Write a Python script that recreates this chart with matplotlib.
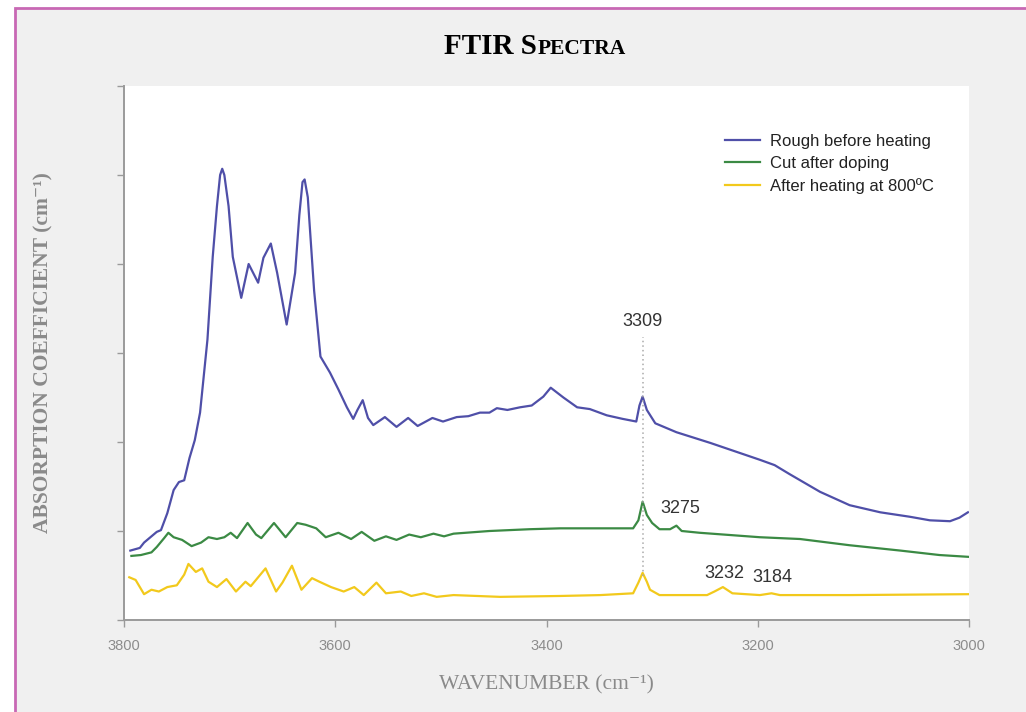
import matplotlib as mpl
mpl.use("agg")
import matplotlib.pyplot as plt
from matplotlib.patches import Rectangle
from matplotlib.offsetbox import TextArea, HPacker, AnchoredOffsetbox

# spectra (wavenumber cm-1, absorption coefficient arb. units)
rough_wn = [3794, 3785, 3781, 3769, 3765, 3759, 3753, 3748, 3743, 3738, 3733, 3728,
            3721, 3716, 3712, 3709, 3707, 3705, 3701, 3697, 3689, 3682, 3673, 3668,
            3661, 3655, 3646, 3638, 3634, 3631, 3629, 3626, 3620, 3614, 3605, 3597,
            3589, 3583, 3579, 3574, 3569, 3564, 3553, 3542, 3531, 3522, 3508, 3498,
            3485, 3474, 3463, 3454, 3447, 3437, 3425, 3414, 3403, 3396, 3384, 3371,
            3359, 3343, 3328, 3315, 3312, 3309, 3305, 3297, 3277, 3245, 3198, 3184,
            3170, 3141, 3113, 3084, 3056, 3037, 3018, 3009, 3001]
rough_ab = [7.8, 8.1, 8.7, 9.9, 10.1, 12.0, 14.6, 15.5, 15.7, 18.2, 20.2, 23.3,
            31.5, 40.8, 46.5, 50.0, 50.7, 50.0, 46.5, 40.8, 36.2, 40.0, 37.9, 40.7,
            42.3, 39.0, 33.2, 39.0, 45.5, 49.2, 49.5, 47.5, 37.0, 29.6, 27.8, 25.9,
            23.9, 22.6, 23.6, 24.7, 22.7, 21.9, 22.8, 21.7, 22.7, 21.8, 22.7, 22.3,
            22.8, 22.9, 23.3, 23.3, 23.8, 23.6, 23.9, 24.1, 25.1, 26.1, 25.0, 23.9,
            23.7, 23.0, 22.6, 22.3, 24.1, 25.1, 23.6, 22.1, 21.1, 19.9, 18.0, 17.4,
            16.4, 14.4, 12.9, 12.1, 11.6, 11.2, 11.1, 11.5, 12.1]

cut_wn = [3793, 3784, 3774, 3769, 3762, 3758, 3753, 3745, 3736, 3727, 3720, 3712,
          3705, 3699, 3693, 3683, 3675, 3670, 3658, 3647, 3636, 3628, 3618, 3609,
          3597, 3585, 3575, 3563, 3552, 3542, 3530, 3519, 3507, 3497, 3488, 3454,
          3416, 3387, 3349, 3318, 3313, 3309, 3305, 3300, 3293, 3283, 3277, 3272,
          3255, 3198, 3160, 3113, 3065, 3028, 3001]
cut_ab = [7.2, 7.3, 7.6, 8.2, 9.2, 9.8, 9.3, 9.0, 8.3, 8.7, 9.3, 9.1,
          9.3, 9.8, 9.2, 10.9, 9.6, 9.2, 10.9, 9.3, 10.9, 10.7, 10.3, 9.3,
          9.8, 9.1, 9.9, 8.9, 9.4, 9.0, 9.6, 9.3, 9.7, 9.4, 9.7, 10.0,
          10.2, 10.3, 10.3, 10.3, 11.2, 13.3, 11.8, 10.9, 10.2, 10.2, 10.6, 10.0,
          9.8, 9.3, 9.1, 8.4, 7.8, 7.3, 7.1]

heat_wn = [3795, 3789, 3781, 3774, 3767, 3759, 3750, 3743, 3739, 3732, 3726, 3720,
           3712, 3703, 3694, 3685, 3680, 3666, 3656, 3650, 3641, 3632, 3622, 3615,
           3604, 3592, 3582, 3573, 3561, 3552, 3538, 3528, 3516, 3504, 3488, 3444,
           3387, 3349, 3318, 3313, 3309, 3305, 3302, 3293, 3248, 3241, 3233, 3224,
           3198, 3187, 3179, 3113, 3001]
heat_ab = [4.8, 4.5, 2.9, 3.4, 3.2, 3.7, 3.9, 5.1, 6.3, 5.4, 5.8, 4.3,
           3.7, 4.6, 3.2, 4.3, 3.8, 5.8, 3.2, 4.2, 6.1, 3.4, 4.7, 4.3,
           3.7, 3.2, 3.7, 2.8, 4.2, 3.0, 3.2, 2.7, 3.0, 2.6, 2.8, 2.6,
           2.7, 2.8, 3.0, 4.2, 5.3, 4.3, 3.4, 2.8, 2.8, 3.2, 3.7, 3.0,
           2.8, 3.0, 2.8, 2.8, 2.9]

labels = ["Rough before heating", "Cut after doping", "After heating at 800ºC"]
colors = ["#4f4fa8", "#3b8a44", "#f2c91c"]

peak_labels = ["3309", "3275", "3232", "3184"]
peak_pos = [(3309, 32.6), (3292, 11.6), (3232, 4.3), (3205, 3.8)]
peak_ha = ["center", "left", "center", "left"]

xticks = [3800, 3600, 3400, 3200, 3000]

serif = ["Liberation Serif", "DejaVu Serif"]
sans = ["Liberation Sans", "DejaVu Sans"]

fig = plt.figure(figsize=(10.26, 7.12), dpi=100)
fig.patch.set_facecolor("white")

bg = fig.add_axes([0, 0, 1, 1], zorder=-5)
bg.set_xlim(0, 1026)
bg.set_ylim(712, 0)
bg.axis("off")
bg.add_patch(Rectangle((15, 8), 1100, 800, facecolor="#f0f0f0",
                       edgecolor="#c868b4", linewidth=2))

ax = fig.add_axes([124 / 1026, 1 - 620 / 712, 845 / 1026, 534 / 712])
ax.set_facecolor("white")

for wn, ab, lab, c in [(rough_wn, rough_ab, labels[0], colors[0]),
                       (cut_wn, cut_ab, labels[1], colors[1]),
                       (heat_wn, heat_ab, labels[2], colors[2])]:
    ax.plot(wn, ab, color=c, lw=1.6, label=lab, solid_joinstyle="round")

ax.vlines(3309, 5.0, 31.8, colors="#aaaaaa", linestyles=(0, (1, 2)), lw=1.1)

for txt, (px, py), ha in zip(peak_labels, peak_pos, peak_ha):
    ax.text(px, py, txt, ha=ha, va="bottom", fontsize=13, color="#333333",
            family=sans)

ax.set_xlim(3800, 3000)
ax.set_ylim(0, 60)
ax.set_xticks(xticks)
ax.set_xticklabels([str(t) for t in xticks], family=sans, fontsize=10.5, color="#8c8c8c")
ax.set_yticks(range(0, 61, 10))
ax.set_yticklabels([])
for s in ["top", "right"]:
    ax.spines[s].set_visible(False)
for s in ["left", "bottom"]:
    ax.spines[s].set_color("#9a9a9a")
    ax.spines[s].set_linewidth(1.4)
ax.tick_params(axis="both", direction="out", length=5, width=1, color="#9a9a9a")
ax.tick_params(axis="x", pad=9)

ax.set_xlabel("WAVENUMBER (cm⁻¹)", family=serif, fontsize=15.5, color="#8a8a8a",
              labelpad=16)
ax.set_ylabel("ABSORPTION COEFFICIENT (cm⁻¹)", family=serif, fontsize=15.5,
              color="#8a8a8a", fontweight="bold", labelpad=42)

leg = ax.legend(loc="upper left", bbox_to_anchor=(0.703, 0.922), frameon=False,
                handlelength=2.1, handletextpad=0.6, labelspacing=0.4,
                borderaxespad=0, prop={"family": sans, "size": 12})
for t in leg.get_texts():
    t.set_color("#222222")

# small caps title
t1 = TextArea("FTIR S", textprops=dict(family=serif, fontsize=21, fontweight="bold", color="black"))
t2 = TextArea("PECTRA", textprops=dict(family=serif, fontsize=15.5, fontweight="bold", color="black"))
pack = HPacker(children=[t1, t2], align="baseline", pad=0, sep=0)
title = AnchoredOffsetbox(loc="center", child=pack, pad=0, borderpad=0, frameon=False,
                          bbox_to_anchor=(535 / 1026, 1 - 46 / 712),
                          bbox_transform=fig.transFigure)
fig.add_artist(title)

fig.savefig("out.png", dpi=100, facecolor=fig.get_facecolor())
